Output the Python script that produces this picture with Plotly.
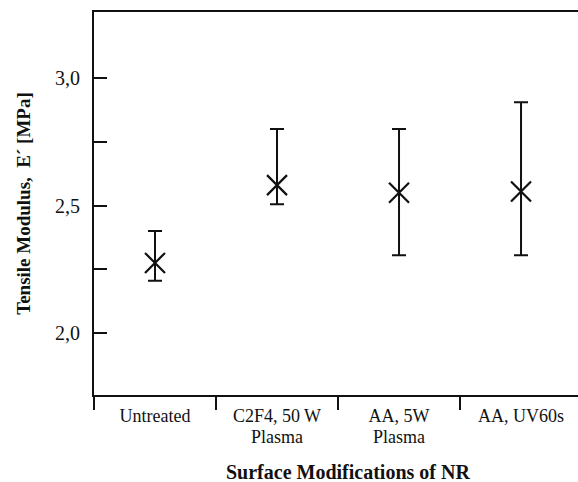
import plotly.graph_objects as go

categories = ["Untreated", "C2F4, 50 W<br>Plasma", "AA, 5W<br>Plasma", "AA, UV60s"]
modulus = [2.275, 2.58, 2.55, 2.555]
upper = [2.40, 2.80, 2.80, 2.905]
lower = [2.205, 2.505, 2.305, 2.305]

y_tickvals = [2.0, 2.25, 2.5, 2.75, 3.0]
y_ticktext = ["2,0", "", "2,5", "", "3,0"]

x_title = "Surface Modifications of NR"
y_title = "Tensile Modulus,  E´ [MPa]"

xs = list(range(len(categories)))
err_plus = [u - m for u, m in zip(upper, modulus)]
err_minus = [m - l for m, l in zip(modulus, lower)]

first_lines = [c.split("<br>")[0] for c in categories]
second_lines = [c.split("<br>")[1] if "<br>" in c else "" for c in categories]

ink = "#111111"
font_family = "Liberation Serif, Times New Roman, serif"

fig = go.Figure()
fig.add_trace(go.Scatter(
    x=xs, y=modulus, mode="markers",
    marker=dict(symbol="x-thin", size=20, color=ink, line=dict(width=2.2, color=ink)),
    error_y=dict(type="data", symmetric=False, array=err_plus, arrayminus=err_minus,
                 color=ink, thickness=2, width=7),
    showlegend=False,
))

for x, txt in zip(xs, second_lines):
    if txt:
        fig.add_annotation(x=x, xref="x", y=0, yref="paper", yshift=-42,
                           yanchor="middle", text=txt, showarrow=False,
                           font=dict(size=18, family=font_family, color=ink))

fig.add_annotation(x=0.525, xref="paper", y=0, yref="paper", yshift=-77,
                   yanchor="middle", xanchor="center", text="<b>" + x_title + "</b>",
                   showarrow=False, font=dict(size=20, family=font_family, color=ink))

fig.update_layout(
    width=578, height=482,
    margin=dict(l=94, r=0, t=12, b=87),
    paper_bgcolor="white", plot_bgcolor="white",
    font=dict(family=font_family, size=18, color=ink),
    xaxis=dict(
        range=[-0.5, 3.467], tickvals=xs, ticktext=first_lines,
        ticks="", showgrid=False, zeroline=False,
        showline=True, linecolor=ink, linewidth=2, mirror=True,
        minor=dict(ticks="outside", ticklen=13, tickwidth=2, tickcolor=ink,
                   tick0=-0.5, dtick=1, showgrid=False),
        ticklabelstandoff=3,
        tickfont=dict(size=18),
    ),
    yaxis=dict(
        range=[1.757, 3.259], tickvals=y_tickvals, ticktext=y_ticktext,
        ticks="inside", ticklen=13, tickwidth=2, tickcolor=ink,
        showgrid=False, zeroline=False,
        showline=True, linecolor=ink, linewidth=2, mirror=False,
        ticklabelstandoff=8,
        tickfont=dict(size=20),
        title=dict(text="<b>" + y_title + "</b>", standoff=19,
                   font=dict(size=19)),
    ),
)

fig.write_html("out.html")
